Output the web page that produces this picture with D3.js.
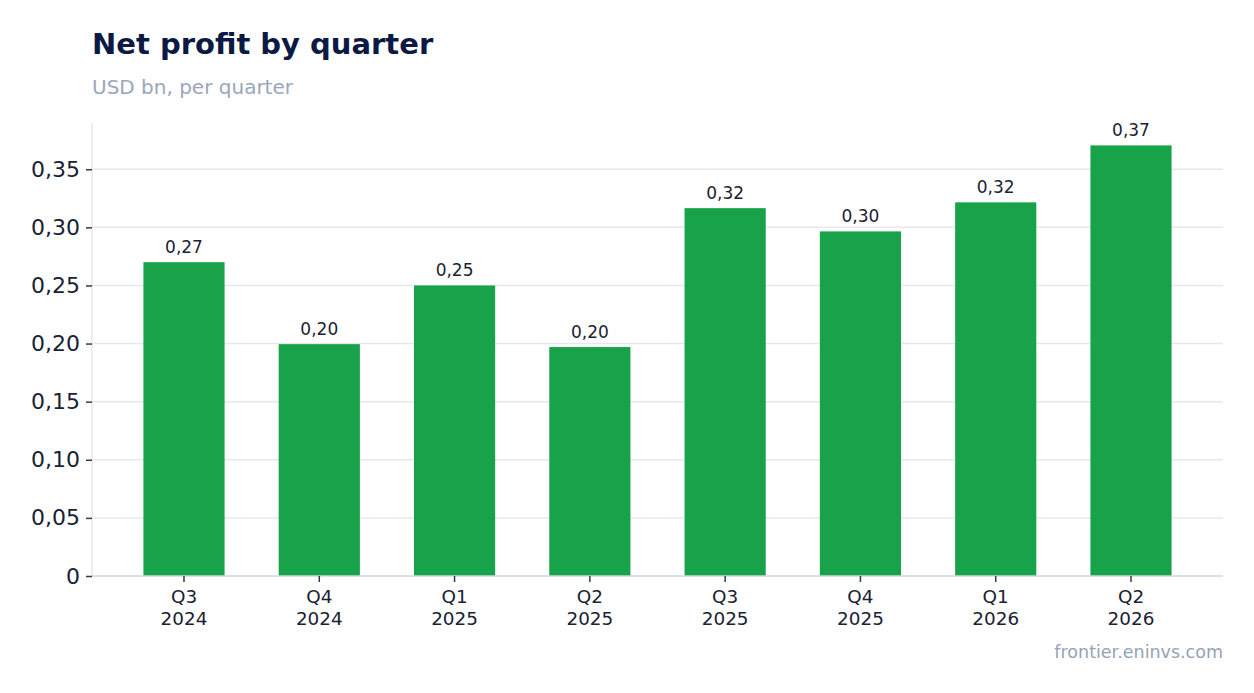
<!DOCTYPE html>
<html>
<head>
<meta charset="utf-8">
<script src="https://cdn.jsdelivr.net/npm/d3@7"></script>
<style>
  body { margin: 0; background: #fff; }
  svg { font-family: "DejaVu Sans", sans-serif; display: block; }
</style>
</head>
<body>
<div id="chart"></div>
<script>
const quarters = ['Q3', 'Q4', 'Q1', 'Q2', 'Q3', 'Q4', 'Q1', 'Q2'];
const years = ['2024', '2024', '2025', '2025', '2025', '2025', '2026', '2026'];
const profit = [0.270, 0.1995, 0.250, 0.197, 0.3165, 0.2965, 0.3215, 0.3705];
const yTicks = [0, 0.05, 0.10, 0.15, 0.20, 0.25, 0.30, 0.35];

const width = 1254;
const height = 693;
const margin = { top: 123, right: 31, bottom: 117, left: 92 };
const innerWidth = width - margin.left - margin.right;
const innerHeight = height - margin.top - margin.bottom;

const fmt = v => v === 0 ? '0' : v.toFixed(2).replace('.', ',');

const root = d3.select('#chart')
  .append('svg')
  .attr('width', width)
  .attr('height', height);

root.append('text')
  .attr('x', 92)
  .attr('y', 54)
  .attr('font-size', '29px')
  .attr('font-weight', 'bold')
  .attr('fill', '#0b1a44')
  .text('Net profit by quarter');

root.append('text')
  .attr('x', 92)
  .attr('y', 94)
  .attr('font-size', '20px')
  .attr('fill', '#9aa7ba')
  .text('USD bn, per quarter');

root.append('text')
  .attr('x', width - margin.right)
  .attr('y', 658)
  .attr('text-anchor', 'end')
  .attr('font-size', '17.5px')
  .attr('fill', '#94a3b8')
  .text('frontier.eninvs.com');

const svg = root.append('g')
  .attr('transform', `translate(${margin.left},${margin.top})`);

const data = profit.map((v, i) => ({ key: i, q: quarters[i], y: years[i], v }));

const xScale = d3.scaleBand()
  .domain(data.map(d => d.key))
  .range([0, innerWidth])
  .paddingInner(0.4)
  .paddingOuter(0.38);

const yScale = d3.scaleLinear()
  .domain([0, d3.max(profit) * 1.052])
  .range([innerHeight, 0]);

// gridlines
svg.append('g')
  .selectAll('line')
  .data(yTicks.filter(t => t > 0))
  .enter()
  .append('line')
  .attr('x1', 0)
  .attr('x2', innerWidth)
  .attr('y1', d => yScale(d))
  .attr('y2', d => yScale(d))
  .attr('stroke', '#e5e8ee')
  .attr('stroke-width', 1.5);

svg.selectAll('.bar')
  .data(data)
  .enter()
  .append('rect')
  .attr('class', 'bar')
  .attr('x', d => xScale(d.key))
  .attr('y', d => yScale(d.v))
  .attr('width', xScale.bandwidth())
  .attr('height', d => innerHeight - yScale(d.v))
  .attr('fill', '#18a34a');

svg.selectAll('.val')
  .data(data)
  .enter()
  .append('text')
  .attr('class', 'val')
  .attr('x', d => xScale(d.key) + xScale.bandwidth() / 2)
  .attr('y', d => yScale(d.v) - 9)
  .attr('text-anchor', 'middle')
  .attr('font-size', '17px')
  .attr('fill', '#1a2233')
  .text(d => fmt(d.v));

// y axis
const yAxis = svg.append('g')
  .call(d3.axisLeft(yScale).tickValues(yTicks).tickFormat(fmt).tickSize(6).tickPadding(6));
yAxis.select('.domain').attr('stroke', '#e2e8f0').attr('stroke-width', 1.5)
  .attr('d', `M0,0V${innerHeight}`);
yAxis.selectAll('.tick line').attr('stroke', '#333a4a').attr('stroke-width', 1.5);
yAxis.selectAll('.tick text').attr('font-size', '22px').attr('fill', '#1a2233')
  .attr('font-family', '"DejaVu Sans", sans-serif');

// x axis
const xAxis = svg.append('g')
  .attr('transform', `translate(0,${innerHeight})`)
  .call(d3.axisBottom(xScale).tickSize(6).tickFormat(''));
xAxis.select('.domain').attr('stroke', '#cfd6e2').attr('stroke-width', 1.5)
  .attr('d', `M0,0H${innerWidth}`);
xAxis.selectAll('.tick line').attr('stroke', '#333a4a').attr('stroke-width', 1.5);
xAxis.selectAll('.tick').each(function(k) {
  const t = d3.select(this).append('text')
    .attr('fill', '#1a2233')
    .attr('font-size', '18.4px')
    .attr('font-family', '"DejaVu Sans", sans-serif')
    .attr('text-anchor', 'middle');
  t.append('tspan').attr('x', 0).attr('y', 27).text(quarters[k]);
  t.append('tspan').attr('x', 0).attr('y', 49).text(years[k]);
});
</script>
</body>
</html>
